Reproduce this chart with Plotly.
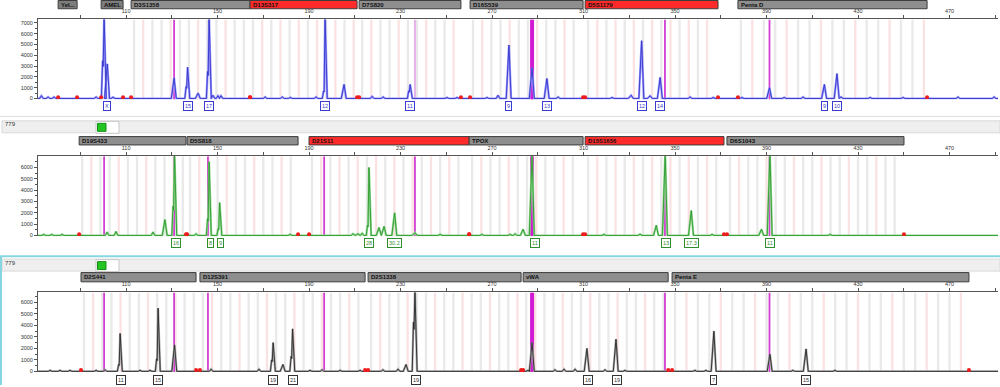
import plotly.graph_objects as go

# ------------------------------------------------------------------ data
SIZE_TICKS = [90, 110, 130, 150, 170, 190, 210, 230, 250, 270, 290, 310, 330, 350, 370, 390, 410, 430, 450, 470, 490]
SIZE_TICK_LABELS = ["", "110", "", "150", "", "190", "", "230", "", "270", "", "310", "", "350", "", "390", "", "430", "", "470", ""]
RFU_TICKS_BLUE = [0, 1000, 2000, 3000, 4000, 5000, 6000, 7000]
RFU_TICKS_GREEN = [0, 1000, 2000, 3000, 4000, 5000, 6000]
RFU_TICKS_BLACK = [0, 1000, 2000, 3000, 4000, 5000, 6000]
SAMPLE_NAME = "779"

# --- blue dye
BLUE_LOCI = ["Yel...", "AMEL", "D3S1358", "D13S317", "D7S820", "D16S539", "D5S1179", "Penta D"]
BLUE_LOCUS_START = [80.3, 99.1, 112.2, 164.2, 211.9, 260.4, 310.7, 377.5]
BLUE_LOCUS_END = [88.6, 108.7, 164.2, 211.0, 256.4, 309.8, 368.8, 460.2]
BLUE_LOCUS_FLAG = [0, 0, 0, 1, 0, 0, 1, 0]
BLUE_PEAK_BP = [100.4, 101.8, 131.0, 136.9, 141.5, 146.3, 197.0, 205.3, 234.2, 277.4, 287.5, 294.0, 330.8, 335.4, 339.1, 343.5, 391.3, 415.3, 420.8]
BLUE_PEAK_RFU = [7600, 3200, 1900, 2900, 500, 7600, 7600, 1300, 1300, 4950, 2850, 1850, 300, 5350, 250, 1950, 1000, 1300, 2300]
BLUE_SHOULDER_RFU = [3500, 0, 0, 1100, 0, 2500, 700, 0, 700, 0, 0, 0, 0, 0, 0, 0, 0, 0, 0]
BLUE_NOISE_BP = [73.0, 75.9, 78.5, 96.9, 104.3, 148.0, 150.2, 151.5, 170.8, 178.3, 181.8, 193.1, 217.6, 222.4, 250.3, 254.7, 267.8, 272.6, 298.9, 322.5, 356.6, 366.7, 379.3, 397.7, 406.0, 422.6, 435.3, 449.7, 473.7, 489.5]
BLUE_NOISE_RFU = [250, 150, 150, 150, 120, 300, 250, 250, 150, 150, 100, 150, 200, 150, 100, 100, 100, 300, 150, 100, 150, 100, 100, 100, 150, 150, 100, 100, 150, 150]
BLUE_ALLELE_BP = [101.8, 137.1, 146.3, 197.0, 234.2, 277.4, 294.0, 335.4, 343.5, 415.3, 420.8]
BLUE_ALLELE = ["X", "15", "17", "12", "11", "9", "13", "12", "14", "9", "10"]
BLUE_ILS_BP = [131.0, 287.5, 345.6, 391.3]
BLUE_ILS_FAINT_BP = [236.3]

# --- green dye
GREEN_LOCI = ["D19S433", "D5S818", "D21S11", "TPOX", "D15S1656", "D6S1043"]
GREEN_LOCUS_START = [89.5, 136.7, 190.0, 260.0, 310.7, 372.7]
GREEN_LOCUS_END = [136.2, 185.2, 260.0, 309.8, 371.4, 450.1]
GREEN_LOCUS_FLAG = [0, 0, 1, 0, 1, 0]
GREEN_PEAK_BP = [127.0, 131.2, 146.3, 150.9, 211.4, 216.2, 220.6, 222.8, 227.4, 236.3, 283.6, 287.5, 341.8, 345.7, 357.1, 387.8, 391.5]
GREEN_PEAK_RFU = [1400, 7200, 6500, 2900, 150, 6000, 700, 800, 2000, 250, 550, 7200, 900, 7200, 2200, 550, 7200]
GREEN_SHOULDER_RFU = [0, 2600, 1500, 600, 0, 900, 0, 0, 0, 0, 0, 0, 0, 0, 0, 0, 0]
GREEN_NOISE_BP = [74.0, 77.5, 82.0, 101.7, 105.6, 121.8, 140.6, 181.7, 209.2, 213.2, 247.3, 265.6, 277.9, 280.1, 318.9, 334.7, 366.2, 417.8]
GREEN_NOISE_RFU = [100, 100, 100, 300, 350, 300, 150, 100, 150, 200, 100, 100, 100, 150, 100, 120, 100, 100]
GREEN_ALLELE_BP = [131.9, 146.7, 151.1, 216.2, 227.4, 288.8, 346.1, 357.1, 391.5]
GREEN_ALLELE = ["16", "8", "9", "28", "30.2", "11", "13", "17.3", "11"]
GREEN_ILS_BP = [100.4, 131.0, 145.8, 196.6, 236.3, 287.5, 345.6, 391.3]

# --- black dye
BLACK_LOCI = ["D2S441", "D12S391", "D2S1338", "vWA", "Penta E"]
BLACK_LOCUS_START = [90.3, 142.3, 215.8, 283.6, 348.7]
BLACK_LOCUS_END = [140.6, 214.5, 282.7, 347.0, 478.5]
BLACK_LOCUS_FLAG = [0, 0, 0, 0, 0]
BLACK_PEAK_BP = [107.4, 124.0, 131.2, 174.3, 178.6, 182.8, 232.4, 236.3, 287.5, 311.5, 324.2, 367.0, 391.5, 407.3]
BLACK_PEAK_RFU = [3300, 5500, 2300, 2500, 600, 3700, 600, 7000, 2500, 2000, 2800, 3500, 1500, 1950]
BLACK_SHOULDER_RFU = [600, 1100, 0, 1000, 0, 1300, 0, 4300, 0, 0, 0, 0, 0, 0]
BLACK_NOISE_BP = [76.8, 81.1, 85.5, 96.9, 100.8, 116.1, 120.5, 147.2, 168.1, 190.4, 195.7, 203.6, 212.3, 222.3, 228.9, 285.7, 297.5, 301.5, 306.3, 319.4, 328.1, 358.7, 363.5, 401.5, 419.9]
BLACK_NOISE_RFU = [100, 100, 100, 100, 150, 100, 100, 200, 200, 100, 150, 100, 100, 150, 200, 100, 150, 200, 200, 150, 100, 100, 100, 100, 100]
BLACK_ALLELE_BP = [107.8, 124.0, 174.3, 182.8, 236.7, 311.9, 324.6, 367.0, 407.3]
BLACK_ALLELE = ["11", "15", "19", "21", "19", "16", "19", "7", "15"]
BLACK_ILS_BP = [100.4, 131.0, 145.8, 196.6, 287.5, 345.6, 391.3]

# ------------------------------------------------------------------ helpers
W, H = 1000, 387
FONT = "Liberation Sans, Arial, sans-serif"
X_RANGE = [71.5, 491.2]


def ypap(p):
    return 1 - p / H


def peak_path(pbp, prfu, psh, nbp, nrfu):
    items = []
    for b, h, s in zip(pbp, prfu, psh):
        pts = [(b - 1.2, 0)]
        if s:
            pts += [(b - 0.65, s), (b - 0.4, s * 0.85)]
        pts += [(b, h), (b + 0.95, 0)]
        items.append((b, pts))
    for b, h in zip(nbp, nrfu):
        items.append((b, [(b - 0.8, 0), (b, h), (b + 0.8, 0)]))
    items.sort(key=lambda t: t[0])
    xs, ys = [X_RANGE[0]], [0]
    for _, pts in items:
        for x, y in pts:
            xs.append(x)
            ys.append(y)
    xs.append(X_RANGE[1])
    ys.append(0)
    return xs, ys


panels = [
    dict(loci=BLUE_LOCI, start=BLUE_LOCUS_START, end=BLUE_LOCUS_END, flag=BLUE_LOCUS_FLAG,
         pbp=BLUE_PEAK_BP, prfu=BLUE_PEAK_RFU, psh=BLUE_SHOULDER_RFU,
         nbp=BLUE_NOISE_BP, nrfu=BLUE_NOISE_RFU, abp=BLUE_ALLELE_BP, atxt=BLUE_ALLELE,
         ils=BLUE_ILS_BP, ils_faint=BLUE_ILS_FAINT_BP, yticks=RFU_TICKS_BLUE,
         dom=(ypap(100), ypap(19.5)), yr=(-92, 7322), bar=(0.5, 8.8), lab=106.5,
         light="#9a9aff", dark="#3434c8", lab_color="#3a3ad0"),
    dict(loci=GREEN_LOCI, start=GREEN_LOCUS_START, end=GREEN_LOCUS_END, flag=GREEN_LOCUS_FLAG,
         pbp=GREEN_PEAK_BP, prfu=GREEN_PEAK_RFU, psh=GREEN_SHOULDER_RFU,
         nbp=GREEN_NOISE_BP, nrfu=GREEN_NOISE_RFU, abp=GREEN_ALLELE_BP, atxt=GREEN_ALLELE,
         ils=GREEN_ILS_BP, ils_faint=[], yticks=RFU_TICKS_GREEN,
         dom=(ypap(237.5), ypap(157)), yr=(-70, 6991), bar=(137.3, 145.7), lab=244,
         light="#93d893", dark="#2f9a2f", lab_color="#2f8f2f"),
    dict(loci=BLACK_LOCI, start=BLACK_LOCUS_START, end=BLACK_LOCUS_END, flag=BLACK_LOCUS_FLAG,
         pbp=BLACK_PEAK_BP, prfu=BLACK_PEAK_RFU, psh=BLACK_SHOULDER_RFU,
         nbp=BLACK_NOISE_BP, nrfu=BLACK_NOISE_RFU, abp=BLACK_ALLELE_BP, atxt=BLACK_ALLELE,
         ils=BLACK_ILS_BP, ils_faint=[], yticks=RFU_TICKS_BLACK,
         dom=(ypap(374), ypap(294)), yr=(-60, 6866), bar=(274, 283.3), lab=381.5,
         light="#a8a8a8", dark="#2a2a2a", lab_color="#333333"),
]

fig = go.Figure()
shapes = []
annotations = []

for i, p in enumerate(panels):
    n = "" if i == 0 else str(i + 1)
    xa, ya = "x" + n, "y" + n
    ylo, yhi = p["yr"]

    # bin stripes (background)
    sx, sc = [], []
    for name, s, e, f in zip(p["loci"], p["start"], p["end"], p["flag"]):
        if name in ("Yel...", "AMEL"):
            continue
        step = 5.0 if name.startswith("Penta") else 4.0
        k = 0
        b = s + 1.3
        while b < e - 0.8:
            sx.append(b)
            pink = (k % 3 == 1) if not f else (k % 2 == 1)
            sc.append("#fbe2e2" if pink else "#e9e9e9")
            b += step
            k += 1
    fig.add_trace(go.Bar(x=sx, y=[yhi - ylo] * len(sx), base=[ylo] * len(sx), width=[1.0] * len(sx),
                         marker=dict(color=sc, line=dict(width=0)), xaxis=xa, yaxis=ya,
                         hoverinfo="skip", showlegend=False))

    # internal lane standard lines
    lx, ly = [], []
    for b in p["ils"]:
        lx += [b, b, None]
        ly += [ylo, yhi, None]
    fig.add_trace(go.Scatter(x=lx, y=ly, mode="lines", line=dict(color="#d23fd2", width=1.8),
                             xaxis=xa, yaxis=ya, hoverinfo="skip", showlegend=False))
    wide = [b for b in p["ils"] if abs(b - 287.5) < 0.5]
    if wide:
        fig.add_trace(go.Scatter(x=[wide[0], wide[0]], y=[ylo, yhi], mode="lines",
                                 line=dict(color="#d21ad2", width=4),
                                 xaxis=xa, yaxis=ya, hoverinfo="skip", showlegend=False))
    if p["ils_faint"]:
        fx, fy = [], []
        for b in p["ils_faint"]:
            fx += [b, b, None]
            fy += [ylo, yhi, None]
        fig.add_trace(go.Scatter(x=fx, y=fy, mode="lines", line=dict(color="#e7b2e7", width=2),
                                 xaxis=xa, yaxis=ya, hoverinfo="skip", showlegend=False))

    # peaks: light halo + darker core
    xs, ys = peak_path(p["pbp"], p["prfu"], p["psh"], p["nbp"], p["nrfu"])
    fig.add_trace(go.Scatter(x=xs, y=ys, mode="lines", line=dict(color=p["light"], width=2.2),
                             xaxis=xa, yaxis=ya, hoverinfo="skip", showlegend=False))
    fig.add_trace(go.Scatter(x=xs, y=ys, mode="lines", line=dict(color=p["dark"], width=0.9),
                             xaxis=xa, yaxis=ya, hoverinfo="skip", showlegend=False))

    # red boundary marks
    mx = []
    for s, e in zip(p["start"], p["end"]):
        mx += [s, e]
    fig.add_trace(go.Scatter(x=mx, y=[110] * len(mx), mode="markers",
                             marker=dict(color="#ee1c1c", size=4, symbol="circle", line=dict(width=0)),
                             xaxis=xa, yaxis=ya, hoverinfo="skip", showlegend=False))

    # locus bars
    for name, s, e, f in zip(p["loci"], p["start"], p["end"], p["flag"]):
        small = name in ("Yel...", "AMEL")
        fill = "#ff2b2b" if f else ("#7d7d7d" if small else "#8e8e8e")
        shapes.append(dict(type="rect", xref=xa, yref="paper", x0=s, x1=e,
                           y0=ypap(p["bar"][1]), y1=ypap(p["bar"][0]),
                           fillcolor=fill, line=dict(color="#3c3c3c", width=1), layer="above"))
        annotations.append(dict(x=s, xref=xa, xanchor="left", xshift=1,
                                y=ypap((p["bar"][0] + p["bar"][1]) / 2), yref="paper", yanchor="middle",
                                text="<b>%s</b>" % name, showarrow=False,
                                font=dict(family=FONT, size=6, color="#111111")))

    # allele call boxes
    for b, t in zip(p["abp"], p["atxt"]):
        annotations.append(dict(x=b, xref=xa, y=ypap(p["lab"]), yref="paper", yanchor="middle",
                                text=t, showarrow=False, bgcolor="white",
                                bordercolor=p["lab_color"], borderwidth=1, borderpad=1,
                                font=dict(family=FONT, size=5.5, color=p["lab_color"])))

    # axes
    fig.layout["xaxis" + n] = dict(domain=[38 / W, 998 / W], range=X_RANGE, anchor=ya, side="top",
                                   showline=True, linecolor="#555555", linewidth=1,
                                   tickmode="array", tickvals=SIZE_TICKS, ticktext=SIZE_TICK_LABELS,
                                   ticks="outside", ticklen=3, tickcolor="#555555",
                                   tickfont=dict(family=FONT, size=5.5, color="#333333"),
                                   showgrid=False, zeroline=False, fixedrange=True)
    fig.layout["yaxis" + n] = dict(domain=list(p["dom"]), range=list(p["yr"]), anchor=xa,
                                   showline=True, linecolor="#555555", linewidth=1,
                                   tickmode="array", tickvals=p["yticks"],
                                   ticks="outside", ticklen=3, tickcolor="#555555",
                                   minor=dict(ticks="outside", ticklen=2, dtick=500, tickcolor="#555555"),
                                   tickfont=dict(family=FONT, size=5.5, color="#333333"),
                                   showgrid=False, zeroline=False, fixedrange=True)

# panel separators / headers
shapes.append(dict(type="line", xref="paper", yref="paper", x0=0, x1=1, y0=ypap(117), y1=ypap(117),
                   line=dict(color="#dedede", width=1)))
for top, bot in [(121.5, 133.5), (260.5, 272.5)]:
    shapes.append(dict(type="rect", xref="paper", yref="paper", x0=0.002, x1=1, y0=ypap(bot), y1=ypap(top),
                       fillcolor="#efefef", line=dict(color="#d8d8d8", width=1), layer="below"))
    shapes.append(dict(type="rect", xref="paper", yref="paper", x0=96 / W, x1=119 / W,
                       y0=ypap(bot + 0.5), y1=ypap(top + 0.5), fillcolor="white",
                       line=dict(color="#c8c8c8", width=1)))
    shapes.append(dict(type="rect", xref="paper", yref="paper", x0=97.5 / W, x1=106 / W,
                       y0=ypap(bot - 1.5), y1=ypap(top + 2.5), fillcolor="#25c425",
                       line=dict(color="#149014", width=1)))
    annotations.append(dict(x=3 / W, xref="paper", xanchor="left", y=ypap(top + 3.5), yref="paper",
                            yanchor="middle", text=SAMPLE_NAME, showarrow=False,
                            font=dict(family=FONT, size=6, color="#333333")))
shapes.append(dict(type="line", xref="paper", yref="paper", x0=0, x1=1, y0=ypap(257.5), y1=ypap(257.5),
                   line=dict(color="#86d6df", width=2)))
shapes.append(dict(type="line", xref="paper", yref="paper", x0=0.001, x1=0.001, y0=0, y1=ypap(257.5),
                   line=dict(color="#86d6df", width=2)))

fig.update_layout(width=W, height=H, margin=dict(l=0, r=0, t=0, b=0),
                  paper_bgcolor="white", plot_bgcolor="white", barmode="overlay",
                  showlegend=False, shapes=shapes, annotations=annotations,
                  font=dict(family=FONT))

fig.write_html("out.html", config={"displayModeBar": False, "staticPlot": True},
               post_script="document.body.style.margin='0';document.body.style.padding='0';"
                           "document.body.style.overflow='hidden';")
